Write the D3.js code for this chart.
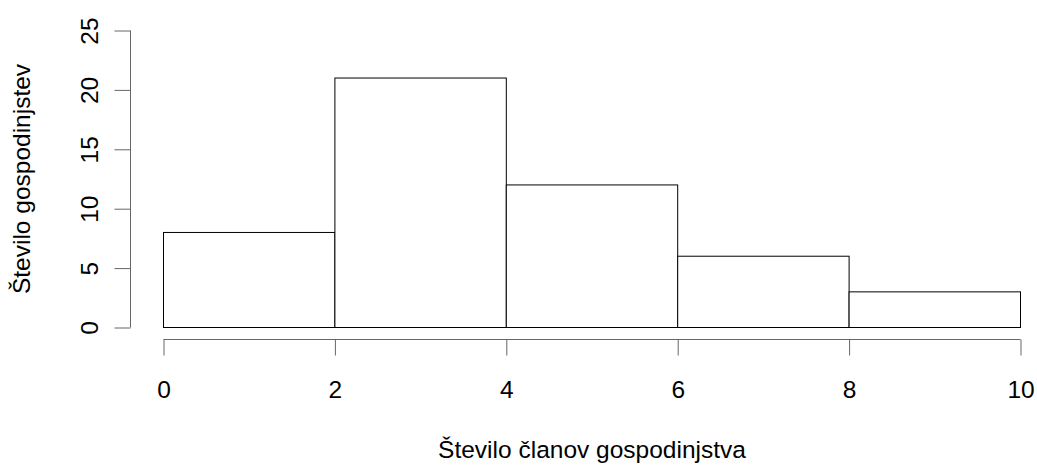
<!DOCTYPE html>
<html>
<head>
<meta charset="utf-8">
<script src="https://cdn.jsdelivr.net/npm/d3@7"></script>
<style>
    body { margin: 0; background: white; }
    text { font-family: "Liberation Sans", Arial, sans-serif; fill: black; }
</style>
</head>
<body>
<svg id="chart"></svg>
<script>
// histogram bins and counts
let binStarts = [0, 2, 4, 6, 8];
let binEnds = [2, 4, 6, 8, 10];
let counts = [8, 21, 12, 6, 3];
let xTicks = [0, 2, 4, 6, 8, 10];
let yTicks = [0, 5, 10, 15, 20, 25];

let width = 1037;
let height = 466;
let fontSize = "24.5px";

let svg = d3.select("#chart")
    .attr("width", width)
    .attr("height", height);

let scaleX = d3.scaleLinear()
    .domain([0, 10])
    .range([163.5, 1020.5]);

let scaleY = d3.scaleLinear()
    .domain([0, 25])
    .range([327.5, 30.5]);

let data = counts.map((c, i) => ({ x0: binStarts[i], x1: binEnds[i], count: c }));

// bars
svg.selectAll(".bar")
    .data(data)
    .enter()
    .append("rect")
    .attr("class", "bar")
    .attr("x", d => scaleX(d.x0))
    .attr("y", d => scaleY(d.count))
    .attr("width", d => scaleX(d.x1) - scaleX(d.x0))
    .attr("height", d => scaleY(0) - scaleY(d.count))
    .attr("fill", "white")
    .attr("stroke", "black")
    .attr("stroke-width", 1);

// x axis
let xAxis = svg.append("g")
    .attr("transform", "translate(0, 339.5)")
    .call(d3.axisBottom(scaleX).tickValues(xTicks).tickSize(16).tickSizeOuter(0));
xAxis.select(".domain").attr("stroke", "#666").attr("d", `M${scaleX(0)},0H${scaleX(10)}`);
xAxis.selectAll(".tick line").attr("stroke", "#666");
xAxis.selectAll(".tick text")
    .attr("y", 58)
    .attr("dy", null)
    .style("font-size", fontSize)
    .style("font-family", "Liberation Sans, Arial, sans-serif")
    .attr("fill", "black");

// y axis
let yAxis = svg.append("g")
    .attr("transform", "translate(130.5, 0)")
    .call(d3.axisLeft(scaleY).tickValues(yTicks).tickSize(16).tickSizeOuter(0));
yAxis.select(".domain").attr("stroke", "#666").attr("d", `M0,${scaleY(0)}V${scaleY(25)}`);
yAxis.selectAll(".tick line").attr("stroke", "#666");
yAxis.selectAll(".tick text")
    .attr("x", null)
    .attr("dy", null)
    .attr("transform", "translate(-32.5, 0) rotate(-90)")
    .attr("text-anchor", "middle")
    .style("font-size", fontSize)
    .style("font-family", "Liberation Sans, Arial, sans-serif")
    .attr("fill", "black");

// axis titles
svg.append("text")
    .attr("x", (scaleX(0) + scaleX(10)) / 2)
    .attr("y", 458)
    .attr("text-anchor", "middle")
    .style("font-size", fontSize)
    .text("Število članov gospodinjstva");

svg.append("text")
    .attr("transform", `translate(30, ${(scaleY(0) + scaleY(25)) / 2}) rotate(-90)`)
    .attr("text-anchor", "middle")
    .style("font-size", fontSize)
    .text("Število gospodinjstev");
</script>
</body>
</html>
